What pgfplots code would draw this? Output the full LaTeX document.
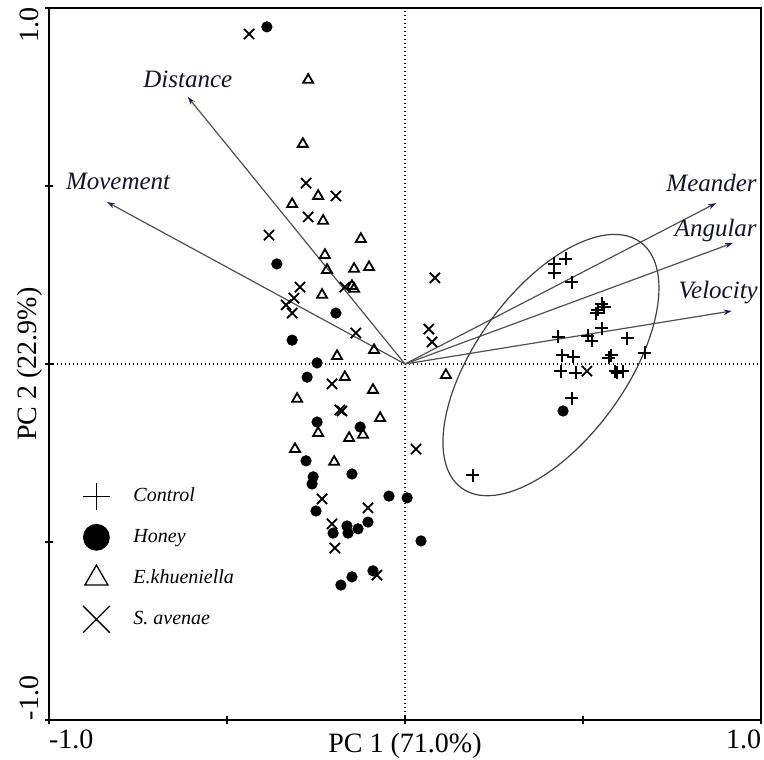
\documentclass[border=0pt]{standalone}
\usepackage{fontspec}
\setmainfont{Liberation Serif}
\usepackage{pgfplots}
\pgfplotsset{compat=1.18}
\usetikzlibrary{arrows.meta,calc}

\definecolor{vecline}{HTML}{505050}
\definecolor{vechead}{HTML}{1C1F5C}
\definecolor{veclabel}{HTML}{141428}
\definecolor{ellcol}{HTML}{404040}

% PCA scores (PC1, PC2) for each treatment
\pgfplotstableread{
x y
0.419 0.281
0.452 0.295
0.419 0.256
0.469 0.230
0.553 0.169
0.559 0.160
0.542 0.152
0.537 0.143
0.553 0.101
0.430 0.076
0.514 0.079
0.525 0.065
0.624 0.073
0.441 0.025
0.472 0.020
0.579 0.025
0.573 0.017
0.674 0.031
0.438 -0.020
0.480 -0.025
0.590 -0.020
0.596 -0.025
0.612 -0.020
0.469 -0.096
0.191 -0.312
}\control

\pgfplotstableread{
x y
-0.388 0.947
-0.360 0.281
-0.194 0.143
-0.317 0.067
-0.247 0.003
-0.275 -0.037
-0.247 -0.163
-0.126 -0.177
-0.278 -0.272
-0.149 -0.309
-0.258 -0.317
-0.261 -0.337
-0.045 -0.371
0.006 -0.376
-0.250 -0.413
-0.104 -0.444
-0.202 -0.475
-0.163 -0.455
-0.160 -0.475
-0.132 -0.463
0.045 -0.497
-0.090 -0.581
-0.149 -0.598
-0.180 -0.621
0.444 -0.132
}\honey

\pgfplotstableread{
x y
-0.272 0.798
-0.287 0.618
-0.244 0.472
-0.317 0.449
-0.230 0.402
-0.124 0.351
-0.225 0.306
-0.219 0.264
-0.143 0.267
-0.101 0.272
-0.233 0.194
-0.149 0.219
-0.143 0.211
-0.087 0.039
-0.191 0.022
-0.169 -0.037
-0.090 -0.073
-0.303 -0.098
-0.070 -0.152
-0.244 -0.194
-0.157 -0.208
-0.118 -0.199
-0.309 -0.239
-0.199 -0.275
0.115 -0.031
}\ekhueniella

\pgfplotstableread{
x y
-0.438 0.927
-0.278 0.508
-0.194 0.472
-0.272 0.413
-0.382 0.362
-0.295 0.216
-0.312 0.185
-0.334 0.166
-0.317 0.143
-0.169 0.216
-0.138 0.087
0.084 0.242
0.067 0.098
0.076 0.062
-0.205 -0.056
-0.183 -0.129
-0.177 -0.132
0.031 -0.239
-0.233 -0.379
-0.104 -0.404
-0.205 -0.449
-0.197 -0.517
-0.079 -0.593
0.511 -0.020
}\savenae

\pgfplotsset{
  lgdmark/.style={legend image code/.code={%
    \path[draw=none,fill=none] (-7bp,-7bp) rectangle (18.5bp,7bp);
    \draw[mark repeat=2,mark phase=2,##1,only marks] plot coordinates {(-1bp,0bp) (0bp,0bp) (1bp,0bp)};}},
  vec/.style={vecline, line width=0.6bp,
    -{Stealth[length=4bp,width=2.6bp,color=vechead]}},
}

\begin{document}
\begin{tikzpicture}
\begin{axis}[
  scale only axis, width=356bp, height=356bp,
  xmin=-1, xmax=1, ymin=-1, ymax=1,
  axis line style={line width=1.1bp, black},
  xtick={-1,-0.5,0,0.5,1}, ytick={-1,-0.5,0,0.5,1},
  xticklabels={{\makebox[0pt][l]{-1.0}},,,,{\makebox[0pt][r]{1.0}}},
  yticklabels={{\makebox[0pt][l]{-1.0}},,,,{\makebox[0pt][r]{1.0}}},
  tick align=center, major tick length=4bp,
  tick style={line width=0.8bp, black},
  xtick pos=left, ytick pos=left,
  ticklabel style={font=\fontsize{14bp}{16bp}\selectfont},
  xticklabel style={anchor=base, yshift=-12bp},
  yticklabel style={xshift=-3bp, rotate=90, anchor=base},
  xlabel={PC 1 (71.0\%)}, ylabel={PC 2 (22.9\%)},
  label style={font=\fontsize{14bp}{16bp}\selectfont},
  xlabel style={at={(axis description cs:0.5,-0.045)}, anchor=base},
  ylabel style={at={(axis description cs:-0.017,0.5)}, anchor=base},
  legend style={draw=none, fill=none, at={(axis cs:-0.924,-0.320)}, anchor=north west,
    font=\fontsize{10bp}{12bp}\selectfont\itshape, row sep=6.5bp,
    nodes={inner sep=0pt}},
  legend cell align=left,
]
% reference lines through the origin
\draw[black, line width=0.6bp, dash pattern=on 0.6bp off 1.4bp] (axis cs:0,-1) -- (axis cs:0,1);
\draw[black, line width=0.6bp, dash pattern=on 0.6bp off 1.4bp] (axis cs:-1,0) -- (axis cs:1,0);

% legend symbols
\addlegendimage{only marks, mark=+, mark size=6.75bp, line width=0.65bp, black, lgdmark}
\addlegendentry{Control}
\addlegendimage{only marks, mark=*, mark size=6.5bp, black, lgdmark}
\addlegendentry{Honey}
\addlegendimage{only marks, mark=triangle, mark size=6.6bp, line width=0.65bp, black, lgdmark}
\addlegendentry{E.khueniella}
\addlegendimage{only marks, mark=x, mark size=9.5bp, line width=0.65bp, black, lgdmark}
\addlegendentry{S. avenae}

% variable loadings
\addplot[vec, forget plot] coordinates {(0,0) (-0.610,0.750)};
\addplot[vec, forget plot] coordinates {(0,0) (-0.837,0.455)};
\addplot[vec, forget plot] coordinates {(0,0) (0.874,0.452)};
\addplot[vec, forget plot] coordinates {(0,0) (0.921,0.340)};
\addplot[vec, forget plot] coordinates {(0,0) (0.918,0.149)};

\begin{scope}[every node/.style={font=\fontsize{12.5bp}{15bp}\selectfont\itshape, text=veclabel, inner sep=0pt}]
\node at (axis cs:-0.610,0.800) {Distance};
\node at (axis cs:-0.806,0.514) {Movement};
\node[anchor=east] at (axis cs:0.989,0.508) {Meander};
\node[anchor=east] at (axis cs:0.989,0.376) {Angular};
\node[anchor=east] at (axis cs:0.992,0.202) {Velocity};
\end{scope}

% confidence ellipse of the control group
\draw[ellcol, line width=0.6bp, rotate around={54:(axis cs:0.410,-0.003)}]
  (axis cs:0.410,-0.003) ellipse [x radius=76bp, y radius=37.5bp];

% scores
\addplot[only marks, mark=+, mark size=3.25bp, line width=0.9bp, black, forget plot] table {\control};
\addplot[only marks, mark=*, mark size=2.6bp, black, forget plot] table {\honey};
\addplot[only marks, mark=triangle, mark size=2.9bp, line width=0.9bp, black, forget plot] table {\ekhueniella};
\addplot[only marks, mark=x, mark size=3.6bp, line width=0.9bp, black, forget plot] table {\savenae};
\end{axis}
\pgfresetboundingbox
\path ($(current axis.south west)+(-24.5bp,-20bp)$) rectangle ($(current axis.north east)+(1.5bp,4bp)$);
\end{tikzpicture}
\end{document}
